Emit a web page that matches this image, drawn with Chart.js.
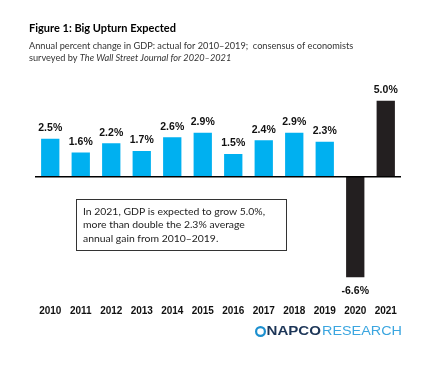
<!DOCTYPE html>
<html>
<head>
<meta charset="utf-8">
<script src="https://cdn.jsdelivr.net/npm/chart.js@4"></script>
<style>
  html, body { margin: 0; padding: 0; background: #fff; }
  canvas { display: block; }
</style>
</head>
<body>
<canvas id="gdp-chart" width="448" height="374"></canvas>
<script>
// annual % change in GDP, actual 2010-2019, WSJ consensus 2020-2021
const years = ['2010', '2011', '2012', '2013', '2014', '2015', '2016', '2017', '2018', '2019', '2020', '2021'];
const gdpChange = [2.5, 1.6, 2.2, 1.7, 2.6, 2.9, 1.5, 2.4, 2.9, 2.3, -6.6, 5.0];
const forecastYears = ['2020', '2021'];

const BLUE = '#00b0f0';
const DARK = '#231f20';

// draw text squeezed/stretched to a given width
const fitText = (ctx, txt, x, y, width) => {
    const w = ctx.measureText(txt).width;
    ctx.save();
    ctx.translate(x, y);
    ctx.scale(width / w, 1);
    ctx.fillText(txt, 0, 0);
    ctx.restore();
};

const textPlugin = {
    id: 'gdpText',
    afterDatasetsDraw(chart) {
        const { ctx, chartArea, scales } = chart;
        const zeroY = scales.y.getPixelForValue(0);

        // zero line
        ctx.save();
        ctx.strokeStyle = '#000';
        ctx.lineWidth = 1.5;
        ctx.beginPath();
        ctx.moveTo(chartArea.left, zeroY);
        ctx.lineTo(chartArea.right, zeroY);
        ctx.stroke();

        // value labels
        ctx.font = 'bold 10.5px "Liberation Sans", Arial, sans-serif';
        ctx.fillStyle = '#111';
        ctx.textAlign = 'center';
        ctx.textBaseline = 'middle';
        chart.getDatasetMeta(0).data.forEach((bar, i) => {
            const v = gdpChange[i];
            const y = v >= 0 ? bar.y - 10.5 : bar.y + 14;
            ctx.fillText(v.toFixed(1) + '%', bar.x, y);
        });
        ctx.restore();
    },
    afterDraw(chart) {
        const { ctx } = chart;
        ctx.save();
        ctx.textBaseline = 'middle';
        ctx.textAlign = 'left';

        // title + subtitle
        ctx.fillStyle = '#000';
        ctx.font = 'bold 11px Lato, sans-serif';
        ctx.fillText('Figure 1: Big Upturn Expected', 29, 28);
        ctx.fillStyle = '#333';
        ctx.font = '9.2px Lato, sans-serif';
        ctx.fillText('Annual percent change in GDP: actual for 2010\u20132019;  consensus of economists', 29, 46);
        const pre = 'surveyed by ';
        ctx.fillText(pre, 29, 58);
        const w = ctx.measureText(pre).width;
        ctx.font = 'italic 9.2px Lato, sans-serif';
        ctx.fillText('The Wall Street Journal for 2020\u20132021', 29 + w, 58);

        // callout box
        ctx.strokeStyle = '#333';
        ctx.lineWidth = 1;
        ctx.strokeRect(76.5, 199.5, 210, 51);
        ctx.fillStyle = '#222';
        ctx.font = '10.4px Lato, sans-serif';
        ctx.fillText('In 2021, GDP is expected to grow 5.0%,', 83, 211.5);
        ctx.fillText('more than double the 2.3% average', 83, 225);
        ctx.fillText('annual gain from 2010\u20132019.', 83, 239);

        // logo
        ctx.strokeStyle = '#1b8fcf';
        ctx.lineWidth = 2.2;
        ctx.beginPath();
        ctx.arc(260.5, 331.5, 4.4, 0, Math.PI * 2);
        ctx.stroke();
        ctx.fillStyle = '#1c3557';
        ctx.font = '900 12.5px "Liberation Sans", Arial, sans-serif';
        fitText(ctx, 'NAPCO', 266.5, 332, 54.5);
        ctx.fillStyle = '#3ba6e0';
        ctx.font = '12.5px "Liberation Sans", Arial, sans-serif';
        fitText(ctx, 'RESEARCH', 322, 332, 80);
        ctx.restore();
    }
};

new Chart(document.getElementById('gdp-chart'), {
    type: 'bar',
    data: {
        labels: years,
        datasets: [{
            data: gdpChange,
            backgroundColor: ctx => forecastYears.includes(years[ctx.dataIndex]) ? DARK : BLUE,
            barPercentage: 0.6,
            categoryPercentage: 1
        }]
    },
    options: {
        responsive: false,
        animation: false,
        devicePixelRatio: 1,
        layout: { padding: { left: 35, right: 47, top: 85.5, bottom: 45.4 } },
        plugins: {
            legend: { display: false },
            tooltip: { enabled: false }
        },
        scales: {
            y: { display: false, min: -8, max: 6 },
            x: {
                grid: { display: false, drawTicks: false },
                border: { display: false },
                ticks: {
                    color: '#111',
                    padding: 7,
                    font: { family: '"Liberation Sans", Arial, sans-serif', size: 10, weight: 'bold' }
                },
                afterFit: scale => { scale.height = 30; }
            }
        }
    },
    plugins: [textPlugin]
});
</script>
</body>
</html>
